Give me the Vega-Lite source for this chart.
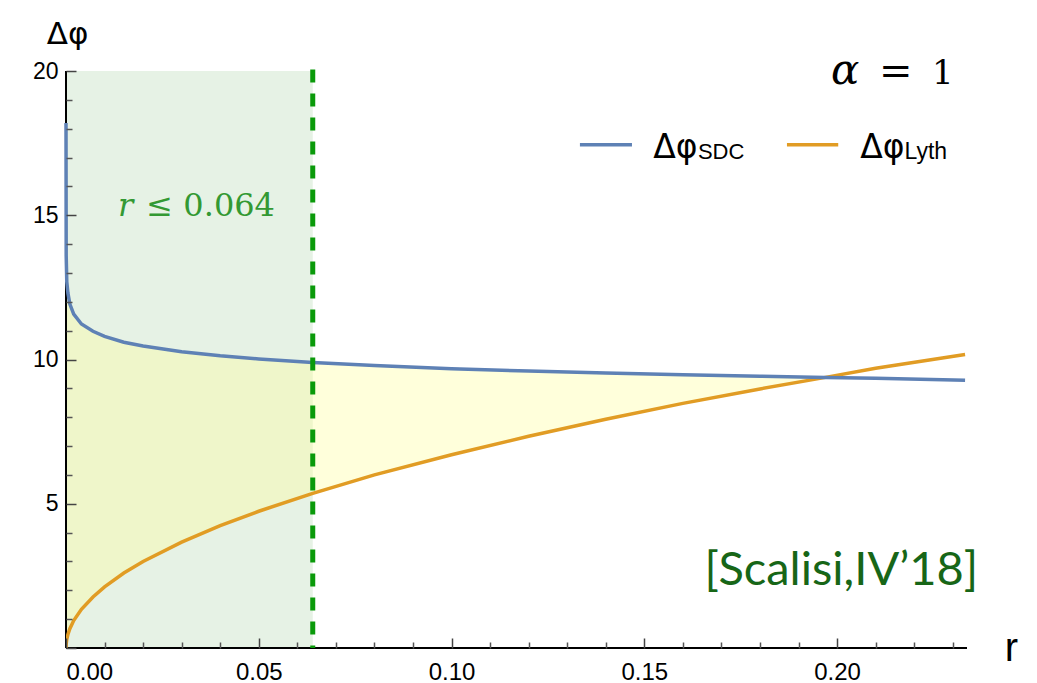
{
  "$schema": "https://vega.github.io/schema/vega-lite/v6.json",
  "width": 901,
  "height": 577,
  "autosize": {"type": "none"},
  "padding": {"left": 66, "top": 71, "right": 70, "bottom": 35},
  "background": "white",
  "config": {"view": {"stroke": null}},
  "data": {"values": [{}]},
  "datasets": {
    "curves": [
      {"r": 0.0, "sdc": 18.2, "lyth": 0.0},
      {"r": 0.00005, "sdc": 13.6, "lyth": 0.15},
      {"r": 0.0002, "sdc": 12.7, "lyth": 0.3},
      {"r": 0.0005, "sdc": 12.3, "lyth": 0.47},
      {"r": 0.001, "sdc": 11.92, "lyth": 0.67},
      {"r": 0.002, "sdc": 11.57, "lyth": 0.95},
      {"r": 0.004, "sdc": 11.23, "lyth": 1.34},
      {"r": 0.007, "sdc": 10.98, "lyth": 1.77},
      {"r": 0.01, "sdc": 10.8, "lyth": 2.12},
      {"r": 0.015, "sdc": 10.6, "lyth": 2.6},
      {"r": 0.02, "sdc": 10.47, "lyth": 3.0},
      {"r": 0.03, "sdc": 10.27, "lyth": 3.67},
      {"r": 0.04, "sdc": 10.13, "lyth": 4.24},
      {"r": 0.05, "sdc": 10.02, "lyth": 4.74},
      {"r": 0.064, "sdc": 9.9, "lyth": 5.36},
      {"r": 0.08, "sdc": 9.79, "lyth": 6.0},
      {"r": 0.1, "sdc": 9.68, "lyth": 6.7},
      {"r": 0.12, "sdc": 9.6, "lyth": 7.34},
      {"r": 0.14, "sdc": 9.53, "lyth": 7.93},
      {"r": 0.16, "sdc": 9.47, "lyth": 8.48},
      {"r": 0.18, "sdc": 9.42, "lyth": 8.98},
      {"r": 0.197, "sdc": 9.38, "lyth": 9.38},
      {"r": 0.21, "sdc": 9.35, "lyth": 9.7},
      {"r": 0.2332, "sdc": 9.28, "lyth": 10.17}
    ]
  },
  "resolve": {"axis": {"x": "independent", "y": "independent"}},
  "layer": [
    {
      "mark": {"type": "rect", "color": "#e6f2e5"},
      "encoding": {
        "x": {"datum": 0, "type": "quantitative", "scale": {"domain": [0, 0.2337], "nice": false, "zero": false},
          "axis": {"values": [0.01,0.02,0.03,0.04,0.06,0.07,0.08,0.09,0.11,0.12,0.13,0.14,0.16,0.17,0.18,0.19,0.21,0.22,0.23], "labels": false, "domain": false, "grid": false, "tickSize": -6, "tickColor": "#555", "tickWidth": 1.5, "title": null, "orient": "bottom", "zindex": 2}},
        "x2": {"datum": 0.064},
        "y": {"datum": 0, "type": "quantitative", "scale": {"domain": [0, 20], "nice": false, "zero": false},
          "axis": {"values": [1,2,3,4,6,7,8,9,11,12,13,14,16,17,18,19], "labels": false, "domain": false, "grid": false, "tickSize": -6, "tickColor": "#555", "tickWidth": 1.5, "title": null, "orient": "left", "zindex": 2}},
        "y2": {"datum": 20}
      }
    },
    {
      "data": {"name": "curves"},
      "transform": [{"filter": "datum.r <= 0.197"}],
      "mark": {"type": "area", "color": "#ffff99", "opacity": 0.35},
      "encoding": {
        "x": {"field": "r", "type": "quantitative", "axis": null},
        "y": {"field": "lyth", "type": "quantitative", "axis": null},
        "y2": {"field": "sdc"}
      }
    },
    {
      "mark": {"type": "rule", "color": "black", "strokeWidth": 2},
      "encoding": {"x": {"datum": 0, "axis": null}, "y": {"datum": 0, "axis": null}, "y2": {"datum": 20}}
    },
    {
      "mark": {"type": "rule", "color": "black", "strokeWidth": 2},
      "encoding": {"x": {"datum": 0, "axis": null}, "x2": {"datum": 0.2337}, "y": {"datum": 0, "axis": null}}
    },
    {
      "data": {"name": "curves"},
      "mark": {"type": "line", "color": "#e19c24", "strokeWidth": 3.5, "clip": true},
      "encoding": {
        "x": {"field": "r", "type": "quantitative",
          "axis": {"values": [0, 0.05, 0.1, 0.15, 0.2], "format": ".2f", "labelFont": "Liberation Sans", "labelFontSize": 24, "labelColor": "black", "labelPadding": 22, "tickSize": -10, "tickColor": "#444", "tickWidth": 1.5, "domain": false, "grid": false, "orient": "bottom", "zindex": 2,
            "title": "r", "titleFont": "Liberation Sans", "titleFontSize": 40, "titleFontWeight": "normal", "titleColor": "black", "titleX": 945, "titleY": 0, "titleBaseline": "middle", "titleAlign": "center"}},
        "y": {"field": "lyth", "type": "quantitative",
          "axis": {"values": [0, 5, 10, 15, 20], "labelExpr": "datum.value == 0 ? '' : datum.label", "labelFont": "Liberation Sans", "labelFontSize": 23, "labelColor": "black", "labelPadding": 18, "tickSize": -10, "tickColor": "#444", "tickWidth": 1.5, "domain": false, "grid": false, "orient": "left", "zindex": 2,
            "title": "Δφ", "titleFont": "DejaVu Sans", "titleFontSize": 31, "titleFontWeight": "normal", "titleColor": "black", "titleAngle": 0, "titleX": 1, "titleY": -28, "titleAlign": "center", "titleBaseline": "alphabetic"}}
      }
    },
    {
      "data": {"name": "curves"},
      "mark": {"type": "line", "color": "#5e81b5", "strokeWidth": 3.5, "clip": false},
      "encoding": {
        "x": {"field": "r", "type": "quantitative", "axis": null},
        "y": {"field": "sdc", "type": "quantitative", "axis": null}
      }
    },
    {
      "mark": {"type": "rule", "color": "#0a9a0a", "strokeWidth": 5, "strokeDash": [13, 11]},
      "encoding": {
        "x": {"datum": 0.064, "axis": null},
        "y": {"datum": 20.05, "axis": null},
        "y2": {"datum": 0}
      }
    },
    {
      "mark": {"type": "rule", "color": "#5e81b5", "strokeWidth": 3.5},
      "encoding": {"x": {"datum": 0.1333, "axis": null}, "x2": {"datum": 0.1468}, "y": {"datum": 17.44, "axis": null}}
    },
    {
      "mark": {"type": "rule", "color": "#e19c24", "strokeWidth": 3.5},
      "encoding": {"x": {"datum": 0.187, "axis": null}, "x2": {"datum": 0.2003}, "y": {"datum": 17.44, "axis": null}}
    },
    {
      "mark": {"type": "text", "text": "Δφ", "font": "DejaVu Sans", "fontSize": 33, "align": "left", "baseline": "alphabetic", "color": "black"},
      "encoding": {"x": {"datum": 0.1523, "axis": null}, "y": {"datum": 16.99, "axis": null}}
    },
    {
      "mark": {"type": "text", "text": "SDC", "font": "Liberation Sans", "fontSize": 22, "align": "left", "baseline": "alphabetic", "color": "black"},
      "encoding": {"x": {"datum": 0.1639, "axis": null}, "y": {"datum": 16.96, "axis": null}}
    },
    {
      "mark": {"type": "text", "text": "Δφ", "font": "DejaVu Sans", "fontSize": 33, "align": "left", "baseline": "alphabetic", "color": "black"},
      "encoding": {"x": {"datum": 0.206, "axis": null}, "y": {"datum": 16.99, "axis": null}}
    },
    {
      "mark": {"type": "text", "text": "Lyth", "font": "Liberation Sans", "fontSize": 23, "align": "left", "baseline": "alphabetic", "color": "black"},
      "encoding": {"x": {"datum": 0.2175, "axis": null}, "y": {"datum": 16.96, "axis": null}}
    },
    {
      "mark": {"type": "text", "text": "α", "font": "DejaVu Serif", "fontStyle": "italic", "fontSize": 42, "align": "left", "baseline": "alphabetic", "color": "black"},
      "encoding": {"x": {"datum": 0.1984, "axis": null}, "y": {"datum": 19.55, "axis": null}}
    },
    {
      "mark": {"type": "text", "text": "=", "font": "DejaVu Serif", "fontSize": 40, "align": "center", "baseline": "alphabetic", "color": "black"},
      "encoding": {"x": {"datum": 0.2152, "axis": null}, "y": {"datum": 19.55, "axis": null}}
    },
    {
      "mark": {"type": "text", "text": "1", "font": "DejaVu Serif", "fontSize": 34, "align": "center", "baseline": "alphabetic", "color": "black"},
      "encoding": {"x": {"datum": 0.2274, "axis": null}, "y": {"datum": 19.55, "axis": null}}
    },
    {
      "mark": {"type": "text", "text": "r", "font": "DejaVu Serif", "fontStyle": "italic", "fontSize": 32, "align": "left", "baseline": "alphabetic", "color": "#339933"},
      "encoding": {"x": {"datum": 0.0135, "axis": null}, "y": {"datum": 14.98, "axis": null}}
    },
    {
      "mark": {"type": "text", "text": "≤ 0.064", "font": "DejaVu Serif", "fontSize": 32, "align": "right", "baseline": "alphabetic", "color": "#339933"},
      "encoding": {"x": {"datum": 0.0542, "axis": null}, "y": {"datum": 14.98, "axis": null}}
    },
    {
      "mark": {"type": "text", "text": "[Scalisi,IV’18]", "font": "Lato", "fontSize": 47, "align": "right", "baseline": "alphabetic", "color": "#176617"},
      "encoding": {"x": {"datum": 0.2366, "axis": null}, "y": {"datum": 2.18, "axis": null}}
    }
  ]
}
